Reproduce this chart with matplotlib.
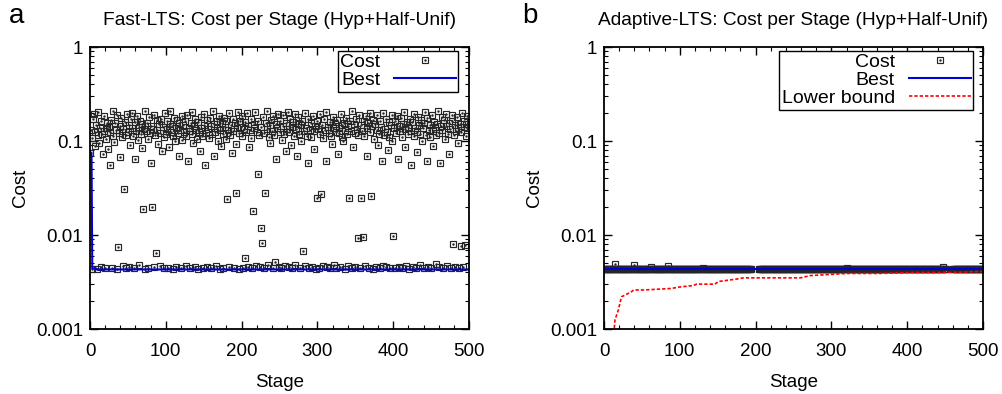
import matplotlib.pyplot as plt
import numpy as np
from matplotlib.lines import Line2D
from matplotlib.ticker import FixedLocator, LogLocator, NullFormatter, MultipleLocator

plt.rcParams['font.family'] = ['Liberation Sans', 'DejaVu Sans']
plt.rcParams['font.size'] = 13.5

# Fast-LTS cost per stage, in units of 1e-4
fast_cost_e4 = [
    750, 1320, 1080, 44, 1710, 1950, 1240, 880, 1470, 43, 1150, 2050, 960, 1380, 1620, 46, 1190, 720, 1850, 1290, 45, 1040, 1560, 1370, 830,
    1420, 560, 1260, 1690, 45, 1130, 2100, 970, 1540, 1310, 44, 1880, 75, 1210, 1450, 680, 1760, 1090, 47, 1330, 310, 1600, 1170, 45, 1920,
    1250, 1480, 46, 910, 1720, 1360, 2000, 1120, 45, 1580, 640, 1290, 1830, 1020, 1400, 48, 1640, 1190, 850, 1510, 190, 1340, 2080, 44, 1270,
    1570, 1060, 45, 1790, 1220, 590, 1460, 200, 1350, 46, 1910, 1150, 64, 1660, 1310, 940, 1500, 47, 1230, 1730, 780, 1400, 1090, 45, 1980,
    1180, 1620, 1350, 45, 870, 1530, 2060, 1260, 1440, 44, 1120, 1760, 990, 1380, 46, 1690, 1210, 700, 1570, 1300, 45, 1850, 1030, 1480, 1240,
    1650, 47, 1120, 1900, 620, 1390, 1270, 45, 1560, 2020, 1180, 960, 1430, 46, 1710, 1320, 1050, 1600, 44, 1250, 780, 1820, 1380, 1140, 45,
    1490, 1940, 560, 1210, 1670, 46, 1340, 1080, 1760, 1450, 45, 1190, 2090, 690, 1530, 1260, 47, 1620, 1380, 1010, 1850, 44, 1300, 880, 1570,
    1190, 45, 1740, 1420, 1060, 1630, 240, 1310, 1980, 46, 1150, 1480, 740, 1700, 1270, 45, 1550, 930, 280, 1360, 2040, 1220, 44, 1640, 1400,
    1120, 1830, 45, 1350, 1590, 57, 1240, 1970, 46, 1460, 860, 1300, 1720, 1080, 45, 180, 1520, 1390, 2010, 47, 1260, 450, 1650, 1170, 46,
    120, 1410, 82, 1790, 1230, 45, 280, 1560, 1340, 2070, 48, 1100, 1480, 960, 1690, 1280, 45, 1830, 1150, 51, 1500, 640, 1370, 1950, 46,
    1260, 1620, 45, 1030, 1450, 1880, 1190, 47, 780, 1540, 1330, 2030, 46, 1240, 1710, 900, 1400, 45, 1600, 1140, 1930, 48, 1350, 700, 1500,
    1780, 1200, 45, 1010, 1490, 1650, 67, 1280, 1990, 47, 1380, 1120, 580, 1730, 45, 1310, 1560, 1090, 46, 1840, 830, 1270, 1450, 44, 250,
    1620, 1350, 45, 1180, 1920, 270, 1490, 47, 1070, 1700, 1300, 610, 2040, 46, 1420, 1230, 1590, 45, 1140, 920, 1810, 1360, 48, 1500, 1250,
    45, 1680, 730, 1390, 1210, 46, 1960, 1480, 1100, 1000, 1570, 44, 1320, 1770, 1180, 47, 1440, 250, 1630, 1290, 45, 2080, 860, 1520, 1220,
    46, 1700, 1350, 92, 1160, 1900, 45, 250, 1470, 1280, 95, 1620, 1120, 47, 1830, 690, 1390, 1560, 45, 1250, 2000, 260, 1430, 44, 1680,
    1060, 1510, 46, 1300, 1870, 900, 1200, 45, 1650, 1420, 610, 1980, 47, 1150, 1340, 1730, 46, 1260, 800, 1580, 1090, 45, 1470, 1900, 1010,
    98, 1360, 45, 1640, 1210, 1850, 640, 1430, 46, 1290, 1760, 1100, 45, 1530, 2050, 870, 1330, 47, 1600, 1180, 1420, 44, 1720, 560, 1270,
    1580, 46, 1130, 1960, 1370, 45, 1250, 770, 1820, 1480, 48, 1200, 1670, 1000, 1390, 45, 1550, 2020, 1150, 620, 1740, 46, 1320, 1490, 1090,
    45, 1890, 1280, 880, 1610, 1400, 49, 1170, 1530, 2060, 1230, 46, 590, 1440, 1790, 1310, 45, 1680, 1050, 1460, 1920, 47, 1200, 1570, 730,
    1340, 45, 1640, 1910, 80, 1160, 1470, 46, 1270, 1800, 950, 1390, 45, 1530, 77, 1240, 1990, 46, 1420, 1650, 78, 1130, 1850, 1360, 1500,
]

# Adaptive-LTS: stages with a cost sample (gaps around 195-203 and 452-459)
adapt_segments = [(0, 195), (204, 452), (460, 501)]
adapt_level = 0.0043
adapt_outliers = {15: 0.0049, 40: 0.0048, 62: 0.0046, 85: 0.0047, 130: 0.0045, 320: 0.0045, 447: 0.0046}

# Lower bound (Adaptive-LTS)
lb_stage = [13, 14.5, 19, 23, 28, 36.5, 39, 52, 89, 100, 118, 122, 146, 151, 175, 184, 206, 232,
            259, 272, 298, 320, 363, 408, 460, 500]
lb_value = [0.0009, 0.00125, 0.0016, 0.0022, 0.0023, 0.0025, 0.0026, 0.0026, 0.0027, 0.0028, 0.0029,
            0.0030, 0.0030, 0.0032, 0.0034, 0.0035, 0.0035, 0.0035, 0.0035, 0.0037, 0.0038, 0.0039,
            0.0039, 0.0040, 0.0040, 0.0041]

fast_cost = np.array(fast_cost_e4) / 1e4
fast_stage = np.arange(len(fast_cost))
fast_best = np.minimum.accumulate(fast_cost)

adapt_stage = np.concatenate([np.arange(a, b) for a, b in adapt_segments])
adapt_cost = np.array([adapt_outliers.get(s, adapt_level) for s in adapt_stage])
adapt_best = np.minimum.accumulate(adapt_cost)

fig = plt.figure(figsize=(10.02, 3.94), dpi=100)
ax1 = fig.add_axes([90 / 1002, 65 / 394, 379 / 1002, 282 / 394])
ax2 = fig.add_axes([604 / 1002, 65 / 394, 379 / 1002, 282 / 394])

blue = '#0000dd'
mk = dict(marker='s', ms=5, mfc='none', mec='#262626', mew=0.85, ls='none')
dot = dict(marker='.', ms=1.5, color='#262626', ls='none')


def style(ax, title, letter):
    ax.set_yscale('log')
    ax.set_ylim(0.001, 1)
    ax.set_xlim(0, 500)
    ax.yaxis.set_major_locator(FixedLocator([0.001, 0.01, 0.1, 1]))
    ax.set_yticklabels(['0.001', '0.01', '0.1', '1'])
    ax.yaxis.set_minor_locator(LogLocator(base=10, subs=np.arange(2, 10)))
    ax.yaxis.set_minor_formatter(NullFormatter())
    ax.xaxis.set_major_locator(MultipleLocator(100))
    ax.xaxis.set_minor_locator(MultipleLocator(20))
    ax.tick_params(which='both', direction='in', top=True, right=True, labelsize=13.5)
    ax.tick_params(axis='x', which='both', pad=10)
    ax.tick_params(axis='y', which='both', pad=5)
    ax.tick_params(which='major', length=6, width=1)
    ax.tick_params(which='minor', length=3, width=0.8)
    for s in ax.spines.values():
        s.set_linewidth(1.3)
    ax.set_xlabel('Stage', fontsize=13.5, labelpad=10)
    ax.set_ylabel('Cost', fontsize=13.5, labelpad=5)
    ax.set_title(title, fontsize=13.8, pad=16)
    ax.text(-0.215, 1.11, letter, transform=ax.transAxes, fontsize=20, va='center', ha='left')


leg_kw = dict(loc='upper right', markerfirst=False, fancybox=False, edgecolor='black', framealpha=1,
              borderaxespad=0, handlelength=3.2, labelspacing=0.02, borderpad=0.12, handletextpad=0.7,
              fontsize=14)

# Panel a
ax1.plot(fast_stage, fast_cost, **mk)
ax1.plot(fast_stage, fast_cost, **dot)
ax1.plot(fast_stage, fast_best, color=blue, lw=1.5)
style(ax1, 'Fast-LTS: Cost per Stage (Hyp+Half-Unif)', 'a')
h_cost = (Line2D([], [], **mk), Line2D([], [], **dot))
h_best = Line2D([], [], color=blue, lw=1.5)
lg1 = ax1.legend([h_cost, h_best], ['Cost', 'Best'], bbox_to_anchor=(0.972, 0.985), **leg_kw)

# Panel b
ax2.plot(adapt_stage, adapt_cost, **mk)
ax2.plot(adapt_stage, adapt_cost, **dot)
ax2.plot(adapt_stage, adapt_best, color=blue, lw=1.5)
ax2.plot(lb_stage, lb_value, color='red', lw=1.2, ls=(0, (2, 1.2)))
style(ax2, 'Adaptive-LTS: Cost per Stage (Hyp+Half-Unif)', 'b')
h_lb = Line2D([], [], color='red', lw=1.2, ls=(0, (2, 1.2)))
lg2 = ax2.legend([h_cost, h_best, h_lb], ['Cost', 'Best', 'Lower bound'],
                 bbox_to_anchor=(0.974, 0.985), **leg_kw)

for lg in (lg1, lg2):
    lg.get_frame().set_linewidth(1.0)

fig.savefig('out.png', dpi=100)
